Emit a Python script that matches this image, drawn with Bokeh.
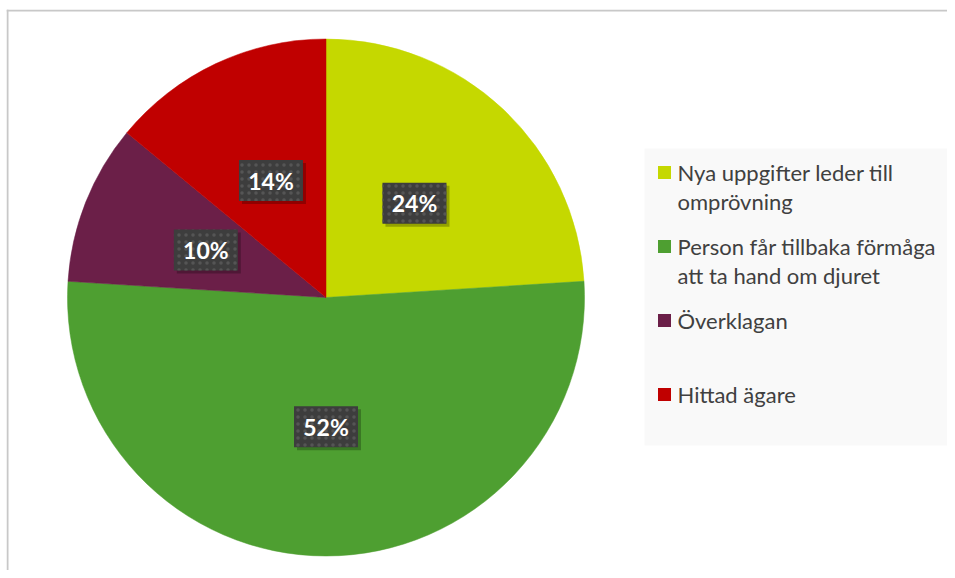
import math
from bokeh.plotting import figure
from bokeh.models import Range1d
from bokeh.core.properties import value
from bokeh.embed import file_html
from bokeh.resources import INLINE

# ---- data ----
categories = ["Nya uppgifter leder till omprövning",
              "Person får tillbaka förmåga att ta hand om djuret",
              "Överklagan",
              "Hittad ägare"]
legend_lines = [["Nya uppgifter leder till", "omprövning"],
                ["Person får tillbaka förmåga", "att ta hand om djuret"],
                ["Överklagan"],
                ["Hittad ägare"]]
shares = [24, 52, 10, 14]
labels = ["24%", "52%", "10%", "14%"]
colors = ["#C5D800", "#4E9F31", "#6B1F48", "#C00000"]

# ---- layout (image pixel coordinates, y measured from top) ----
W, H = 947, 570
def Y(img_y):
    return 578 - img_y

cx, cy, R = 325.5, Y(297), 258.5
FONT = "Lato"

p = figure(width=W, height=H, output_backend="svg", toolbar_location=None,
           x_range=Range1d(6, 947), y_range=Range1d(8, 569),
           min_border_left=6, min_border_top=9, min_border_right=0, min_border_bottom=0)
p.axis.visible = False
p.grid.visible = False
p.outline_line_color = None
p.background_fill_color = "white"
p.border_fill_color = "white"

# chart border (left and top visible)
p.segment(x0=[7, 6], y0=[Y(9), Y(10)], x1=[7, 947], y1=[Y(570), Y(10)],
          line_color="#c8c8c8", line_width=2)

total = float(sum(shares))
a = math.pi / 2
starts, ends, mids = [], [], []
for s in shares:
    sweep = s / total * 2 * math.pi
    starts.append(a - sweep)
    ends.append(a)
    mids.append(a - sweep / 2)
    a -= sweep

p.wedge(x=cx, y=cy, radius=R, start_angle=starts, end_angle=ends,
        direction="anticlock", fill_color=colors, line_color=colors, line_width=0.5)

# data labels
lr = 0.5 * R
lx = [cx + lr * math.cos(m) for m in mids]
ly = [cy + lr * math.sin(m) for m in mids]
p.rect(x=[v + 3 for v in lx], y=[v - 3 for v in ly], width=64, height=41,
       fill_color="black", fill_alpha=0.25, line_color=None)
p.rect(x=lx, y=ly, width=64, height=41, fill_color="#3d3d3d", line_color=None,
       hatch_pattern="dot", hatch_color="#555555", hatch_scale=7, hatch_weight=1.2)
p.text(x=lx, y=ly, text=labels, text_color="white", text_font=value(FONT),
       text_font_style="bold", text_font_size="23px", text_align="center",
       text_baseline="middle")

# legend box
p.quad(left=644, right=950, top=Y(148), bottom=Y(445), fill_color="#F9F9F9", line_color=None)
sq_x, tx = 664, 677
tys, txts = [], []
for i, lines in enumerate(legend_lines):
    yy = 172 + 74 * i
    p.rect(x=sq_x, y=Y(yy), width=13, height=13, fill_color=colors[i], line_color=None)
    for j, ln in enumerate(lines):
        tys.append(Y(yy + 29 * j))
        txts.append(ln)
p.text(x=[tx] * len(txts), y=tys, text=txts, text_color="#404040",
       text_font=value(FONT), text_font_size="22px", text_align="left",
       text_baseline="middle")

open("out.html", "w").write(file_html(p, INLINE))
